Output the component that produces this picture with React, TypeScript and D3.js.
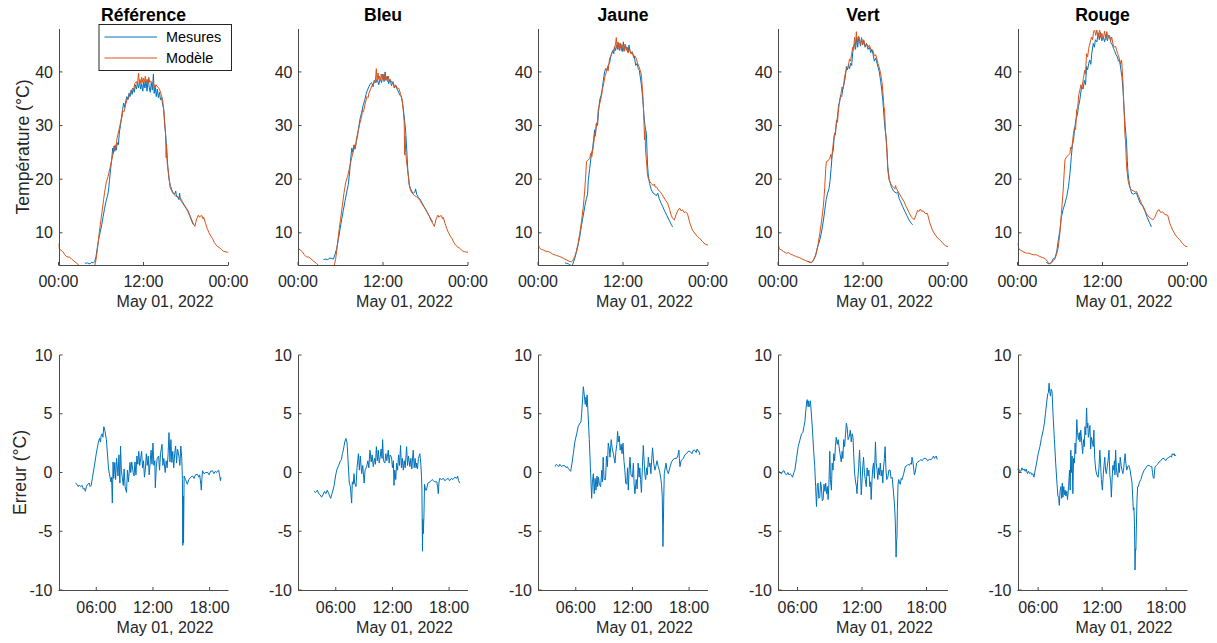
import React from 'react';
import * as d3 from 'd3';

type P = [number, number];

const panelTitles = ['Référence', 'Bleu', 'Jaune', 'Vert', 'Rouge'];
const legendLabels = ['Mesures', 'Modèle'];
const dateLabel = 'May 01, 2022';
const topTicksH = [0, 12, 24];
const botTicksH = [6, 12, 18];
const topYTicks = [10, 20, 30, 40];
const botYTicks = [-10, -5, 0, 5, 10];
const topYDomain: P = [4, 48];
const botYDomain: P = [-10, 10];
const errXDomains: P[] = [[2, 20], [2, 20], [2, 20], [4.18, 20], [4.06, 20]];

// ---- Référence ----
const modelRef: P[] = [[0,8.0],[0.1,7.0],[0.3,6.8],[0.6,6.5],[0.9,5.9],[1.2,5.5],[1.5,5.5],[1.8,5.2],[2.2,4.7],[2.6,4.3],[3.0,3.8],[3.5,3.4],[4.0,3.2],[4.5,3.0],[4.9,3.1],[5.1,3.8],[5.3,5.0],[5.5,7.0],[5.75,10.0],[6.0,12.5],[6.25,15.0],[6.5,17.5],[6.75,19.5],[7.0,20.5],[7.25,22.0],[7.5,23.5],[7.75,25.0],[7.9,25.6],[8.0,26.4],[8.1,25.8],[8.25,27.5],[8.5,29.0],[8.75,30.5],[9.0,31.8],[9.1,32.8],[9.25,32.6],[9.5,34.0],[9.75,35.2],[9.9,35.0],[10.0,35.8],[10.25,36.4],[10.5,37.0],[10.6,36.6],[10.75,37.8],[11.0,38.2],[11.15,37.6],[11.3,39.8],[11.4,38.0],[11.5,38.6],[11.65,37.8],[11.75,39.0],[11.9,38.0],[12.0,38.8],[12.15,38.2],[12.25,39.2],[12.4,38.0],[12.5,38.6],[12.65,37.9],[12.75,39.0],[12.9,38.0],[13.0,38.3],[13.25,38.0],[13.5,37.6],[13.6,37.0],[13.75,37.6],[14.0,37.2],[14.25,36.8],[14.5,35.8],[14.7,34.8],[14.85,33.0],[15.0,30.5],[15.1,28.8],[15.2,24.0],[15.25,26.5],[15.35,23.0],[15.5,21.5],[15.75,18.5],[16.0,17.8],[16.25,17.2],[16.5,16.9],[16.75,16.7],[17.0,16.6],[17.25,16.4],[17.5,15.8],[17.75,15.2],[18.0,14.7],[18.25,14.2],[18.5,13.4],[18.75,12.6],[19.0,11.8],[19.25,11.2],[19.5,12.6],[19.75,13.3],[19.9,12.9],[20.0,13.1],[20.25,13.2],[20.4,12.6],[20.5,12.9],[20.75,11.8],[21.0,10.8],[21.25,10.0],[21.5,9.4],[21.75,8.9],[22.0,8.2],[22.25,7.7],[22.5,7.4],[22.75,7.2],[23.0,6.9],[23.25,6.6],[23.5,6.5],[23.75,6.4],[24.0,6.4]];
const measRef: P[] = [[3.72,4.4],[3.9,4.3],[4.1,4.4],[4.3,4.2],[4.5,4.3],[4.7,4.5],[4.9,4.4],[5.1,4.6],[5.3,5.6],[5.5,7.4],[5.7,9.0],[5.9,10.2],[6.1,11.5],[6.3,13.0],[6.5,14.5],[6.7,15.8],[6.9,16.8],[7.05,17.8],[7.2,19.8],[7.35,21.8],[7.5,23.5],[7.65,25.8],[7.75,24.8],[7.85,26.2],[7.95,25.2],[8.05,26.2],[8.15,25.4],[8.3,26.8],[8.45,26.4],[8.6,28.8],[8.75,30.0],[8.9,31.6],[9.05,33.0],[9.2,34.2],[9.35,33.4],[9.5,34.6],[9.65,35.4],[9.8,34.8],[9.95,36.0],[10.1,35.4],[10.25,36.6],[10.4,35.8],[10.55,37.0],[10.7,36.2],[10.85,37.6],[11.0,36.8],[11.15,38.0],[11.3,37.0],[11.45,38.2],[11.6,36.8],[11.75,37.8],[11.9,36.4],[12.05,38.2],[12.2,37.0],[12.35,38.4],[12.5,36.4],[12.65,38.6],[12.8,37.2],[12.95,36.2],[13.1,38.0],[13.25,36.6],[13.4,39.6],[13.5,36.0],[13.65,37.4],[13.8,35.4],[13.95,36.8],[14.1,35.2],[14.25,36.2],[14.4,34.8],[14.55,35.2],[14.7,34.0],[14.85,33.0],[15.0,30.0],[15.15,28.0],[15.3,25.0],[15.45,22.0],[15.6,20.0],[15.8,18.8],[16.0,18.0],[16.2,17.4],[16.4,17.2],[16.55,17.8],[16.65,16.8],[16.8,16.8],[17.0,16.2],[17.1,17.4],[17.2,16.2],[17.4,15.8],[17.6,15.4],[17.8,15.0],[18.0,14.6],[18.25,14.0],[18.5,13.3],[18.75,12.4],[19.0,11.6],[19.1,11.5]];
const errRef: P[] = [[3.79,-0.9],[3.95,-1.0],[4.1,-1.2],[4.2,-1.07],[4.35,-1.2],[4.5,-1.1],[4.62,-1.4],[4.75,-1.35],[4.85,-1.6],[4.95,-1.2],[5.1,-1.0],[5.25,-0.9],[5.35,-1.2],[5.46,-1.1],[5.6,-0.4],[5.8,0.56],[6.0,1.6],[6.2,2.5],[6.35,2.9],[6.45,2.6],[6.5,3.1],[6.62,3.3],[6.7,3.0],[6.8,3.9],[6.9,3.6],[7.07,2.8],[7.2,1.4],[7.3,0.3],[7.43,-0.3],[7.55,-0.8],[7.62,-0.4],[7.7,-2.6],[7.78,0.9],[7.85,-0.5],[7.96,0.85],[8.05,-0.6],[8.15,1.2],[8.3,-0.3],[8.4,1.5],[8.5,-0.9],[8.57,2.25],[8.65,0.2],[8.75,-0.4],[8.86,-1.1],[8.95,0.3],[9.05,-1.2],[9.2,-1.7],[9.3,0.2],[9.4,-0.8],[9.57,0.85],[9.65,0.0],[9.75,0.9],[9.9,0.0],[10.0,-0.3],[10.1,0.9],[10.2,-0.2],[10.3,1.4],[10.4,0.7],[10.5,1.8],[10.6,0.6],[10.7,1.2],[10.8,1.8],[10.9,0.4],[11.0,1.0],[11.1,-0.4],[11.2,0.3],[11.3,1.6],[11.4,0.6],[11.5,1.4],[11.6,-0.2],[11.7,0.8],[11.8,1.9],[11.9,0.7],[12.0,2.5],[12.1,0.6],[12.2,1.0],[12.25,-1.3],[12.35,0.4],[12.45,1.2],[12.6,1.4],[12.7,0.2],[12.8,1.6],[12.96,2.4],[13.05,0.6],[13.15,1.2],[13.3,0.0],[13.4,1.0],[13.5,0.4],[13.6,1.5],[13.7,3.4],[13.8,0.9],[13.9,2.8],[14.0,0.85],[14.1,1.8],[14.2,0.4],[14.3,1.6],[14.4,2.25],[14.5,0.8],[14.6,2.0],[14.75,1.4],[14.85,0.6],[14.95,2.25],[15.05,1.2],[15.12,-0.6],[15.16,-6.2],[15.2,-2.0],[15.24,-6.0],[15.3,-0.3],[15.45,-0.6],[15.64,-1.0],[15.8,-0.6],[16.0,-0.4],[16.2,-0.3],[16.35,-0.5],[16.5,-0.2],[16.7,-0.15],[16.85,-0.4],[16.95,-0.2],[17.07,-1.0],[17.12,-1.5],[17.18,-0.6],[17.25,0.15],[17.4,-0.1],[17.6,0.0],[17.8,0.0],[17.95,-0.2],[18.1,0.1],[18.3,0.15],[18.45,-0.1],[18.6,0.1],[18.75,0.0],[18.86,0.15],[18.95,0.2],[19.05,-0.2],[19.15,-0.7],[19.2,-0.4]];

// ---- Bleu ----
const modelBleu: P[] = [[0,8.0],[0.1,7.0],[0.3,6.8],[0.6,6.5],[0.9,5.9],[1.2,5.5],[1.5,5.5],[1.8,5.2],[2.2,4.7],[2.6,4.3],[3.0,3.8],[3.5,3.4],[4.0,3.2],[4.5,3.0],[4.9,3.1],[5.1,3.8],[5.3,5.0],[5.5,7.0],[5.75,10.0],[6.0,12.5],[6.25,15.0],[6.5,17.5],[6.75,19.5],[7.0,20.5],[7.25,22.0],[7.5,23.5],[7.75,25.0],[7.9,25.6],[8.0,26.4],[8.1,25.8],[8.25,27.5],[8.5,29.0],[8.75,30.5],[9.0,31.8],[9.1,32.8],[9.25,32.6],[9.5,34.2],[9.75,35.4],[9.9,35.2],[10.0,36.0],[10.25,36.8],[10.5,37.6],[10.6,37.2],[10.75,38.4],[10.9,38.0],[11.06,40.6],[11.15,38.4],[11.3,39.8],[11.4,38.6],[11.5,39.2],[11.65,38.4],[11.75,39.6],[11.9,38.6],[12.0,39.4],[12.15,38.6],[12.25,39.6],[12.4,38.4],[12.5,39.0],[12.65,38.2],[12.75,39.2],[12.9,38.2],[13.0,38.6],[13.25,38.0],[13.5,37.8],[13.6,37.0],[13.75,37.6],[14.0,37.0],[14.25,36.9],[14.5,35.8],[14.7,34.8],[14.85,33.0],[15.0,30.5],[15.05,24.5],[15.1,28.0],[15.2,25.0],[15.35,23.0],[15.5,21.5],[15.75,18.5],[16.0,17.6],[16.25,17.2],[16.5,16.9],[16.75,16.7],[17.0,16.4],[17.25,16.0],[17.5,15.4],[17.75,14.9],[18.0,14.4],[18.25,13.8],[18.5,13.2],[18.75,12.4],[19.0,11.8],[19.25,11.2],[19.5,12.6],[19.75,13.3],[19.9,12.9],[20.0,13.1],[20.25,13.2],[20.4,12.6],[20.5,12.9],[20.75,11.8],[21.0,10.8],[21.25,10.0],[21.5,9.4],[21.75,8.9],[22.0,8.2],[22.25,7.7],[22.5,7.4],[22.75,7.2],[23.0,6.9],[23.25,6.6],[23.5,6.5],[23.75,6.4],[24.0,6.4]];
const measBleu: P[] = [[3.6,5.0],[3.9,5.1],[4.2,5.0],[4.5,5.3],[4.8,5.2],[5.0,5.1],[5.2,5.9],[5.45,7.0],[5.7,8.8],[5.95,10.8],[6.15,12.4],[6.4,14.2],[6.65,16.0],[6.85,17.4],[7.1,19.0],[7.3,21.5],[7.45,24.0],[7.6,25.8],[7.75,25.0],[7.9,26.4],[8.05,25.6],[8.2,26.8],[8.4,28.0],[8.6,30.0],[8.8,31.5],[9.0,32.5],[9.2,33.8],[9.4,34.6],[9.6,35.8],[9.8,36.6],[10.0,37.2],[10.2,37.8],[10.4,38.0],[10.6,37.4],[10.8,38.4],[11.0,38.0],[11.2,38.6],[11.4,37.6],[11.6,38.8],[11.8,38.0],[12.0,39.6],[12.15,38.2],[12.3,40.0],[12.45,38.6],[12.6,39.2],[12.8,37.8],[13.0,38.6],[13.2,37.4],[13.4,38.2],[13.6,37.0],[13.8,37.4],[14.0,36.8],[14.2,36.2],[14.4,35.6],[14.6,35.4],[14.8,33.8],[15.0,31.6],[15.2,29.0],[15.35,25.5],[15.5,21.7],[15.7,19.0],[15.9,18.2],[16.1,17.6],[16.3,17.4],[16.5,17.6],[16.6,18.2],[16.75,17.2],[17.0,16.6],[17.25,16.2],[17.5,15.6],[17.75,15.0],[18.0,14.4],[18.25,13.8],[18.5,13.2],[18.75,12.6],[19.0,12.0]];
const errBleu: P[] = [[3.7,-1.6],[3.85,-1.7],[4.05,-1.5],[4.2,-1.8],[4.35,-1.9],[4.5,-2.1],[4.65,-1.9],[4.8,-1.6],[4.96,-1.8],[5.1,-1.5],[5.25,-1.8],[5.4,-2.1],[5.46,-2.2],[5.6,-1.8],[5.8,-1.2],[6.0,-0.2],[6.1,0.2],[6.3,0.6],[6.44,0.9],[6.6,1.1],[6.7,1.6],[6.8,1.9],[6.95,2.6],[7.08,2.9],[7.2,2.5],[7.3,1.0],[7.43,-0.9],[7.55,-1.2],[7.62,-2.0],[7.68,-2.6],[7.75,-0.8],[7.85,-1.0],[7.93,-0.1],[8.0,-0.9],[8.14,-1.2],[8.25,0.4],[8.4,1.6],[8.5,0.2],[8.6,1.4],[8.74,-0.1],[8.85,0.6],[9.0,-0.9],[9.1,0.2],[9.27,0.5],[9.4,1.0],[9.5,0.4],[9.62,1.9],[9.75,0.9],[9.85,1.5],[9.97,0.5],[10.1,1.2],[10.2,0.7],[10.3,2.2],[10.4,1.0],[10.5,1.9],[10.6,0.8],[10.7,1.3],[10.8,2.0],[10.9,1.2],[10.96,2.8],[11.05,1.0],[11.2,0.8],[11.3,1.6],[11.4,1.0],[11.56,1.9],[11.65,0.8],[11.75,1.5],[11.9,1.3],[12.0,0.4],[12.1,1.0],[12.16,-1.1],[12.25,0.2],[12.35,-0.6],[12.44,0.8],[12.55,0.2],[12.65,1.5],[12.75,0.6],[12.86,2.3],[12.95,0.4],[13.05,1.2],[13.15,0.2],[13.25,1.0],[13.35,0.4],[13.5,2.2],[13.6,0.6],[13.7,1.4],[13.85,0.5],[13.95,1.2],[14.05,0.3],[14.2,1.9],[14.3,0.4],[14.4,1.2],[14.5,0.4],[14.56,0.8],[14.65,0.3],[14.75,1.2],[14.9,1.6],[15.0,0.8],[15.08,-0.4],[15.12,-1.5],[15.18,-6.7],[15.22,-4.0],[15.27,-5.2],[15.33,-3.8],[15.4,-1.0],[15.5,-1.5],[15.6,-1.5],[15.75,-0.9],[15.97,-0.8],[16.2,-0.6],[16.35,-0.7],[16.5,-0.8],[16.7,-0.8],[16.8,-1.3],[16.85,-1.8],[16.92,-0.9],[17.0,-0.5],[17.2,-0.6],[17.4,-0.5],[17.55,-0.7],[17.7,-0.6],[17.9,-0.5],[18.05,-0.7],[18.25,-0.5],[18.4,-0.6],[18.6,-0.4],[18.8,-0.5],[18.9,-0.3],[19.0,-0.7],[19.14,-0.9]];

// ---- Jaune ----
const modelJaune: P[] = [[0,8.0],[0.2,7.2],[0.5,6.9],[0.75,6.8],[1.0,6.6],[1.45,6.5],[1.8,6.3],[2.1,6.0],[2.6,5.8],[3.0,5.6],[3.4,5.4],[3.8,5.1],[4.1,4.9],[4.4,4.7],[4.7,4.6],[4.9,4.8],[5.2,5.6],[5.4,6.5],[5.65,8.0],[5.9,9.9],[6.15,12.2],[6.4,14.9],[6.6,18.0],[6.75,21.0],[6.85,23.3],[7.05,23.5],[7.3,23.9],[7.45,24.8],[7.6,24.2],[7.8,26.0],[7.95,27.6],[8.0,28.5],[8.1,28.0],[8.25,30.5],[8.35,30.0],[8.5,32.9],[8.7,34.0],[8.95,35.4],[9.1,36.8],[9.3,38.0],[9.45,39.2],[9.65,40.0],[9.8,40.8],[9.9,40.2],[10.1,42.5],[10.3,43.0],[10.45,43.6],[10.6,43.8],[10.8,44.4],[10.95,45.2],[11.05,46.4],[11.15,44.6],[11.3,45.6],[11.45,44.2],[11.6,45.4],[11.75,44.0],[11.9,45.0],[12.0,44.7],[12.15,43.8],[12.3,45.2],[12.45,44.0],[12.6,44.6],[12.75,43.6],[12.9,44.4],[13.1,43.4],[13.3,43.8],[13.5,42.6],[13.7,43.0],[13.9,42.4],[14.05,41.6],[14.25,41.0],[14.45,40.2],[14.6,39.4],[14.75,36.5],[14.85,34.7],[14.95,31.0],[15.05,27.3],[15.1,29.0],[15.2,25.0],[15.3,23.6],[15.45,21.0],[15.55,20.2],[15.75,19.6],[16.0,19.2],[16.25,18.8],[16.45,19.1],[16.55,18.5],[16.7,18.6],[17.0,18.0],[17.4,17.4],[17.8,16.5],[18.3,15.5],[18.6,14.3],[18.8,13.3],[19.0,12.7],[19.25,12.4],[19.5,13.4],[19.75,14.2],[20.0,14.6],[20.2,14.1],[20.4,14.3],[20.6,13.8],[20.8,13.9],[21.1,13.6],[21.4,12.0],[21.8,10.5],[22.2,9.8],[22.5,9.3],[22.8,9.0],[23.2,8.4],[23.6,7.9],[24.0,7.7]];
const measJaune: P[] = [[3.8,4.4],[4.05,4.3],[4.3,4.2],[4.5,4.0],[4.7,3.9],[4.9,4.1],[5.2,5.3],[5.45,6.5],[5.7,8.0],[5.9,9.3],[6.15,11.5],[6.4,13.3],[6.6,14.9],[6.8,16.2],[7.0,17.2],[7.1,19.8],[7.3,22.0],[7.55,24.8],[7.7,25.6],[7.85,27.4],[8.0,29.2],[8.1,28.4],[8.25,30.4],[8.4,30.0],[8.55,32.6],[8.7,34.7],[8.9,35.6],[9.05,36.6],[9.2,38.2],[9.4,40.0],[9.55,40.6],[9.75,40.4],[9.9,41.2],[10.1,41.6],[10.25,42.8],[10.4,43.4],[10.55,44.0],[10.7,43.4],[10.8,44.7],[10.95,44.0],[11.1,45.0],[11.25,44.2],[11.4,45.4],[11.5,44.0],[11.7,45.2],[11.9,43.8],[12.05,45.6],[12.2,44.0],[12.35,45.0],[12.5,44.4],[12.7,43.6],[12.85,45.0],[13.0,43.8],[13.2,43.4],[13.4,43.4],[13.6,42.8],[13.8,41.2],[14.0,41.6],[14.15,40.6],[14.3,40.3],[14.5,38.5],[14.65,37.0],[14.8,34.7],[14.95,32.0],[15.1,30.0],[15.3,28.5],[15.45,23.0],[15.55,21.0],[15.75,19.2],[16.0,18.0],[16.25,17.4],[16.5,17.2],[16.7,16.9],[16.9,17.4],[17.1,16.4],[17.35,15.6],[17.6,14.9],[17.9,14.0],[18.2,13.2],[18.5,12.4],[18.8,11.6],[19.0,11.1]];
const errJaune: P[] = [[3.8,0.5],[3.95,0.7],[4.05,0.6],[4.2,0.5],[4.3,0.7],[4.5,0.5],[4.65,0.6],[4.86,0.55],[5.0,0.4],[5.1,0.5],[5.2,0.35],[5.35,0.2],[5.46,0.1],[5.6,0.8],[5.74,1.6],[5.9,2.6],[6.1,3.3],[6.25,3.9],[6.44,4.2],[6.55,4.3],[6.62,5.0],[6.72,6.2],[6.8,7.3],[6.9,6.6],[7.0,5.8],[7.08,6.4],[7.14,5.6],[7.2,6.6],[7.3,5.0],[7.43,2.8],[7.55,0.4],[7.68,-2.2],[7.76,-0.8],[7.86,-0.1],[7.95,-1.8],[8.05,-0.5],[8.14,-1.5],[8.25,-0.3],[8.32,-1.2],[8.4,-0.4],[8.5,-1.0],[8.63,-1.2],[8.75,0.2],[8.82,-0.8],[8.9,1.3],[9.0,-0.6],[9.15,-0.6],[9.25,1.4],[9.35,0.5],[9.44,2.5],[9.55,2.0],[9.62,1.3],[9.75,2.8],[9.87,2.0],[10.0,1.5],[10.15,0.8],[10.25,1.8],[10.35,2.4],[10.43,3.5],[10.5,2.6],[10.6,3.1],[10.7,1.9],[10.8,2.4],[10.9,1.6],[11.0,2.5],[11.1,1.0],[11.2,0.2],[11.28,-0.9],[11.4,-1.0],[11.48,0.4],[11.56,-1.5],[11.65,0.2],[11.74,1.3],[11.85,-0.2],[12.0,-0.4],[12.1,0.8],[12.18,-1.0],[12.26,-1.8],[12.4,-0.6],[12.5,-1.4],[12.6,0.8],[12.7,-0.4],[12.78,0.4],[12.86,-0.6],[12.95,-1.7],[13.05,0.4],[13.15,2.3],[13.25,0.8],[13.32,-0.2],[13.4,-0.6],[13.5,0.4],[13.58,-0.2],[13.68,1.3],[13.78,0.5],[13.86,0.8],[13.95,-0.1],[14.05,1.2],[14.13,2.1],[14.25,0.8],[14.38,0.2],[14.5,0.6],[14.6,1.0],[14.73,0.5],[14.85,0.2],[14.98,-0.4],[15.08,-1.0],[15.16,-2.1],[15.2,-4.5],[15.23,-6.3],[15.27,-4.7],[15.32,-2.0],[15.37,-0.1],[15.45,0.3],[15.55,0.8],[15.65,0.2],[15.8,-0.1],[15.95,0.4],[16.14,0.9],[16.3,1.1],[16.5,1.2],[16.67,1.2],[16.8,1.4],[16.92,1.9],[16.97,1.2],[17.03,0.5],[17.15,1.0],[17.38,1.2],[17.55,1.5],[17.73,1.6],[17.9,1.8],[18.1,1.8],[18.3,1.6],[18.45,1.9],[18.6,1.9],[18.75,1.7],[18.85,2.0],[18.97,1.8],[19.05,1.8],[19.14,1.5]];

// ---- Vert ----
const modelVert: P[] = [[0,8.0],[0.2,7.0],[0.5,6.8],[0.8,6.5],[1.2,6.2],[1.5,6.3],[1.8,6.0],[2.2,5.8],[2.6,5.55],[3.0,5.4],[3.4,5.1],[3.8,4.9],[4.1,4.7],[4.5,4.5],[4.8,4.5],[5.0,4.9],[5.2,5.5],[5.4,6.2],[5.65,7.8],[5.9,9.9],[6.15,12.2],[6.4,14.9],[6.6,18.5],[6.75,22.3],[6.85,23.3],[7.05,23.4],[7.3,23.9],[7.45,24.6],[7.55,23.6],[7.8,26.7],[8.0,28.6],[8.1,28.2],[8.25,31.0],[8.4,30.6],[8.5,32.4],[8.7,34.7],[8.9,36.0],[9.05,37.2],[9.2,36.8],[9.4,39.1],[9.6,40.2],[9.75,40.8],[9.9,41.0],[10.1,42.4],[10.25,42.0],[10.4,43.4],[10.55,44.6],[10.7,44.2],[10.8,46.5],[10.95,45.0],[11.06,47.5],[11.2,45.4],[11.35,46.6],[11.5,45.9],[11.65,45.0],[11.8,46.2],[11.95,45.2],[12.1,46.0],[12.3,44.8],[12.5,45.3],[12.7,44.6],[12.9,45.0],[13.1,44.2],[13.4,44.0],[13.6,43.0],[13.8,43.2],[14.1,41.6],[14.3,40.8],[14.5,39.6],[14.7,37.9],[14.85,35.5],[14.95,33.5],[15.05,32.9],[15.15,29.5],[15.3,26.7],[15.4,24.5],[15.5,21.7],[15.7,19.8],[16.0,18.9],[16.3,18.5],[16.5,18.2],[16.6,18.8],[16.7,18.3],[17.0,17.6],[17.4,16.7],[17.8,15.8],[18.1,14.9],[18.5,13.8],[18.8,13.0],[19.0,12.7],[19.25,12.5],[19.5,13.4],[19.7,14.2],[19.9,14.0],[20.1,14.4],[20.3,14.0],[20.5,14.1],[20.8,13.6],[21.1,13.6],[21.4,12.0],[21.8,10.5],[22.2,9.6],[22.5,9.1],[22.8,8.7],[23.2,8.2],[23.6,7.6],[24.0,7.4]];
const measVert: P[] = [[4.18,4.7],[4.4,4.6],[4.7,4.4],[5.0,4.9],[5.3,5.7],[5.5,6.9],[5.7,7.8],[5.9,8.7],[6.1,9.8],[6.4,12.2],[6.6,14.2],[6.8,16.2],[7.0,17.4],[7.2,18.2],[7.35,19.8],[7.5,22.0],[7.65,24.6],[7.8,25.4],[7.95,28.2],[8.1,28.8],[8.25,30.4],[8.4,31.6],[8.55,33.8],[8.7,34.4],[8.85,35.6],[9.0,35.4],[9.15,37.0],[9.3,37.6],[9.5,39.0],[9.66,41.0],[9.8,40.4],[9.95,41.2],[10.1,40.6],[10.25,41.6],[10.4,41.2],[10.55,43.6],[10.7,44.8],[10.8,45.3],[10.95,44.2],[11.1,46.4],[11.25,44.6],[11.4,46.6],[11.5,46.2],[11.65,44.8],[11.8,46.4],[11.95,45.0],[12.1,45.8],[12.3,44.6],[12.5,45.3],[12.7,44.2],[12.9,44.6],[13.1,43.6],[13.25,44.2],[13.4,43.4],[13.6,42.0],[13.8,42.6],[14.1,41.0],[14.3,40.0],[14.5,38.2],[14.65,36.6],[14.8,34.7],[15.0,31.0],[15.15,29.0],[15.3,27.3],[15.4,25.0],[15.5,22.3],[15.7,20.0],[16.0,18.6],[16.3,17.8],[16.5,17.6],[16.7,17.4],[16.9,17.6],[17.1,16.4],[17.3,15.8],[17.6,14.9],[17.9,14.0],[18.2,13.2],[18.5,12.4],[18.8,11.8],[19.0,11.5]];
const errVert: P[] = [[4.18,0.0],[4.3,0.1],[4.4,-0.05],[4.52,-0.1],[4.6,0.1],[4.74,0.15],[4.85,-0.1],[4.98,-0.2],[5.1,0.0],[5.2,-0.2],[5.3,-0.1],[5.42,-0.2],[5.54,-0.4],[5.65,0.0],[5.75,0.2],[5.9,1.2],[6.06,2.2],[6.2,2.7],[6.37,3.3],[6.5,3.4],[6.59,3.9],[6.68,4.3],[6.77,5.3],[6.85,6.0],[6.9,6.2],[6.98,5.6],[7.04,6.1],[7.08,5.6],[7.15,5.8],[7.2,6.1],[7.3,4.8],[7.39,3.6],[7.5,1.8],[7.6,0.5],[7.68,-1.2],[7.76,-2.9],[7.84,-1.0],[7.91,-0.9],[7.98,-2.2],[8.07,-2.1],[8.14,-0.8],[8.22,-1.2],[8.3,-2.4],[8.38,-2.3],[8.46,-1.0],[8.55,-1.6],[8.62,-0.9],[8.7,-1.8],[8.78,-1.2],[8.84,-2.3],[8.92,-1.0],[9.0,1.8],[9.06,-0.6],[9.15,-1.5],[9.22,0.8],[9.3,0.2],[9.37,1.6],[9.45,1.0],[9.52,2.2],[9.6,3.0],[9.7,2.4],[9.78,2.8],[9.86,2.2],[9.95,1.6],[10.07,0.9],[10.15,1.8],[10.22,1.2],[10.29,2.8],[10.38,2.2],[10.46,3.2],[10.54,4.2],[10.62,3.8],[10.7,2.8],[10.8,3.0],[10.91,3.6],[11.0,2.6],[11.08,3.3],[11.16,3.0],[11.22,1.6],[11.31,-0.1],[11.4,-0.8],[11.48,-1.2],[11.53,-1.8],[11.6,-0.6],[11.68,0.4],[11.77,1.9],[11.85,0.2],[11.93,-1.9],[12.02,-0.4],[12.08,0.6],[12.14,1.3],[12.22,0.0],[12.3,-0.6],[12.39,-1.2],[12.47,0.4],[12.56,-0.3],[12.64,0.2],[12.72,-1.2],[12.8,-0.8],[12.85,-2.3],[12.93,-0.6],[13.0,0.4],[13.07,0.8],[13.15,-0.5],[13.25,2.6],[13.32,0.8],[13.4,0.2],[13.47,-0.6],[13.55,0.4],[13.62,-0.2],[13.7,0.8],[13.78,-0.3],[13.86,0.2],[13.93,-0.9],[14.0,0.4],[14.08,1.2],[14.15,2.2],[14.22,0.4],[14.3,-0.6],[14.4,-0.4],[14.5,0.2],[14.61,0.2],[14.7,-0.5],[14.8,-0.4],[14.9,-1.4],[15.01,-2.6],[15.08,-3.8],[15.13,-5.4],[15.17,-7.2],[15.21,-5.8],[15.25,-5.6],[15.29,-3.2],[15.35,-1.0],[15.42,-0.6],[15.48,-0.9],[15.56,-1.0],[15.65,-0.5],[15.72,-0.6],[15.85,-0.2],[16.03,0.5],[16.2,0.6],[16.3,0.7],[16.4,0.6],[16.52,0.8],[16.6,0.7],[16.65,1.3],[16.72,1.0],[16.8,0.4],[16.87,-0.2],[16.95,0.0],[17.08,0.8],[17.2,0.9],[17.35,1.0],[17.48,1.1],[17.6,1.0],[17.75,1.2],[17.95,1.2],[18.1,1.0],[18.25,1.1],[18.41,1.1],[18.55,1.2],[18.65,1.4],[18.75,1.2],[18.81,1.3],[18.9,1.4],[19.0,1.1]];

// ---- Rouge ----
const modelRouge: P[] = [[0,8.0],[0.2,7.0],[0.5,6.7],[0.9,6.4],[1.3,6.2],[1.6,6.2],[2.0,6.0],[2.3,5.9],[2.7,5.9],[3.1,5.6],[3.5,5.4],[3.9,5.2],[4.2,4.7],[4.4,4.3],[4.6,4.3],[4.8,4.4],[5.05,4.8],[5.3,5.2],[5.55,6.2],[5.77,7.4],[6.0,10.2],[6.2,13.6],[6.45,18.0],[6.6,21.5],[6.7,23.6],[6.94,24.2],[7.15,24.4],[7.4,24.8],[7.5,26.0],[7.65,25.6],[7.9,28.5],[8.05,29.6],[8.2,29.2],[8.35,32.9],[8.5,33.4],[8.65,35.8],[8.8,36.6],[8.95,37.6],[9.1,37.0],[9.3,38.8],[9.5,40.3],[9.6,39.6],[9.75,43.4],[9.9,42.8],[10.05,44.4],[10.25,45.4],[10.45,46.5],[10.6,46.0],[10.75,47.6],[10.9,47.8],[11.05,46.8],[11.2,47.8],[11.4,46.6],[11.6,47.8],[11.75,46.4],[11.9,47.2],[12.1,46.2],[12.3,47.6],[12.45,46.0],[12.6,47.5],[12.8,46.4],[13.0,46.8],[13.15,45.8],[13.3,46.5],[13.5,45.0],[13.7,44.6],[13.85,44.8],[14.0,44.0],[14.2,43.2],[14.4,42.4],[14.55,41.4],[14.7,42.2],[14.8,40.0],[14.9,37.9],[15.0,34.0],[15.1,31.0],[15.15,28.5],[15.25,27.0],[15.4,22.3],[15.6,19.8],[15.85,18.4],[16.1,18.0],[16.4,17.8],[16.6,17.6],[16.8,17.7],[17.1,16.8],[17.5,15.5],[17.8,14.8],[18.2,13.6],[18.6,12.9],[19.1,12.4],[19.4,12.9],[19.6,13.6],[19.8,14.2],[20.0,14.3],[20.2,13.8],[20.5,13.9],[20.8,13.4],[21.2,13.3],[21.5,11.8],[21.9,10.5],[22.3,9.6],[22.6,9.1],[22.9,8.7],[23.3,8.0],[23.7,7.5],[24.0,7.4]];
const measRouge: P[] = [[4.06,4.5],[4.3,4.3],[4.5,4.2],[4.8,4.5],[5.06,5.2],[5.3,5.3],[5.55,6.6],[5.77,8.7],[6.0,10.6],[6.2,13.0],[6.45,14.4],[6.7,15.5],[6.95,16.8],[7.2,18.6],[7.4,21.0],[7.6,24.2],[7.75,26.4],[7.9,27.2],[8.1,29.8],[8.3,31.4],[8.45,32.0],[8.6,33.5],[8.8,34.8],[9.05,37.2],[9.25,36.8],[9.45,38.4],[9.6,37.6],[9.75,41.0],[9.9,40.4],[10.05,41.6],[10.2,42.2],[10.35,41.4],[10.5,43.6],[10.7,45.3],[10.85,44.6],[11.0,46.0],[11.2,45.6],[11.4,47.2],[11.55,46.0],[11.7,47.4],[11.9,45.8],[12.1,46.5],[12.3,45.6],[12.5,47.0],[12.7,45.8],[12.85,46.8],[13.0,46.5],[13.2,45.4],[13.4,45.0],[13.55,44.4],[13.7,44.0],[13.9,43.2],[14.1,42.8],[14.25,42.0],[14.4,42.2],[14.6,40.4],[14.75,39.0],[14.9,36.6],[15.05,33.0],[15.2,30.0],[15.3,28.4],[15.4,26.7],[15.5,23.5],[15.6,21.1],[15.8,19.0],[16.1,17.4],[16.4,17.2],[16.6,17.4],[16.8,17.4],[17.0,16.6],[17.3,15.6],[17.7,14.9],[18.0,14.0],[18.3,12.9],[18.6,12.0],[18.9,11.1]];
const errRouge: P[] = [[4.06,0.2],[4.15,0.4],[4.25,0.1],[4.37,0.1],[4.48,0.4],[4.58,0.2],[4.68,0.3],[4.78,0.1],[4.88,0.3],[4.99,-0.1],[5.1,0.1],[5.2,-0.1],[5.3,0.0],[5.42,-0.2],[5.5,-0.1],[5.6,-0.4],[5.72,0.2],[5.85,0.8],[6.0,1.6],[6.16,2.2],[6.3,2.9],[6.47,3.6],[6.58,4.2],[6.68,5.0],[6.8,6.0],[6.9,6.7],[6.96,6.8],[7.02,7.6],[7.08,6.9],[7.15,6.5],[7.22,7.1],[7.3,6.9],[7.4,4.8],[7.52,2.8],[7.64,0.8],[7.76,-0.9],[7.85,-2.0],[7.92,-2.1],[7.98,-2.8],[8.05,-1.6],[8.13,-1.2],[8.2,-2.2],[8.26,-0.9],[8.32,-2.1],[8.4,-1.2],[8.46,-1.9],[8.53,-1.5],[8.6,-2.0],[8.68,-1.6],[8.75,-2.3],[8.85,-1.2],[8.94,0.2],[9.0,-1.5],[9.06,1.9],[9.12,0.0],[9.18,1.4],[9.25,-1.8],[9.32,1.2],[9.4,0.8],[9.46,2.5],[9.52,1.6],[9.58,3.2],[9.62,4.5],[9.68,3.4],[9.77,2.8],[9.85,3.4],[9.92,2.6],[9.99,3.6],[10.08,2.6],[10.17,1.6],[10.25,2.8],[10.32,2.2],[10.39,3.9],[10.46,3.2],[10.54,5.5],[10.6,3.8],[10.66,4.2],[10.7,3.0],[10.78,3.4],[10.85,4.0],[10.92,2.0],[11.0,3.0],[11.1,2.5],[11.16,2.2],[11.22,3.6],[11.3,1.2],[11.4,0.2],[11.5,-0.2],[11.62,-0.4],[11.7,0.4],[11.78,1.9],[11.85,0.8],[11.92,-0.6],[12.02,-1.5],[12.1,-0.2],[12.17,0.6],[12.24,1.3],[12.32,0.2],[12.39,-0.1],[12.46,0.4],[12.55,1.0],[12.64,1.9],[12.72,-0.2],[12.8,-0.8],[12.86,-2.1],[12.94,-0.4],[13.0,0.6],[13.07,0.2],[13.15,1.0],[13.2,-0.2],[13.26,1.9],[13.33,0.4],[13.4,-0.2],[13.47,-0.4],[13.55,0.8],[13.62,0.0],[13.69,1.3],[13.78,0.6],[13.86,0.2],[13.94,-0.1],[14.02,0.4],[14.1,1.2],[14.15,1.6],[14.22,0.8],[14.3,0.2],[14.4,0.5],[14.5,0.6],[14.62,0.2],[14.7,-0.3],[14.8,-0.9],[14.86,-2.0],[14.92,-3.2],[14.98,-3.0],[15.03,-4.5],[15.08,-8.3],[15.12,-6.5],[15.16,-6.6],[15.2,-4.9],[15.26,-2.5],[15.32,-1.2],[15.39,-1.2],[15.5,-0.8],[15.63,-0.6],[15.75,-0.2],[15.94,0.2],[16.1,0.4],[16.25,0.6],[16.4,0.6],[16.56,0.5],[16.65,0.5],[16.72,0.0],[16.78,-0.4],[16.85,-0.5],[16.96,0.5],[17.1,0.6],[17.2,0.7],[17.33,0.9],[17.5,1.0],[17.65,1.2],[17.8,1.2],[17.95,1.0],[18.1,1.2],[18.26,1.3],[18.4,1.4],[18.5,1.3],[18.57,1.6],[18.65,1.5],[18.75,1.6],[18.82,1.4],[18.88,1.5]];

const models = [modelRef, modelBleu, modelJaune, modelVert, modelRouge];
const measures = [measRef, measBleu, measJaune, measVert, measRouge];
const errors = [errRef, errBleu, errJaune, errVert, errRouge];

const BLUE = '#0072BD';
const ORANGE = '#D95319';
const AXIS = '#4a4a4a';
const TEXT = '#262626';
const FONT = "'Liberation Sans', Arial, Helvetica, sans-serif";

const base = new Date(2022, 4, 1, 0, 0, 0).getTime();
const toDate = (h: number) => new Date(base + h * 3600000);
const fmt = d3.timeFormat('%H:%M');

const W = 1217, H = 643;
const lefts = [58.5, 298, 538, 778, 1017.5];
const PW = 170;
const TOP = { y0: 29, y1: 265 };
const BOT = { y0: 355, y1: 590 };
const TL = 3;

function Panel({ i }: { i: number }) {
  const left = lefts[i];
  const right = left + PW;
  const xT = d3.scaleTime().domain([toDate(0), toDate(24)]).range([left, right]);
  const yT = d3.scaleLinear().domain(topYDomain).range([TOP.y1, TOP.y0]);
  const xB = d3.scaleTime().domain([toDate(errXDomains[i][0]), toDate(errXDomains[i][1])]).range([left, right]);
  const yB = d3.scaleLinear().domain(botYDomain).range([BOT.y1, BOT.y0]);
  const lineT = d3.line<P>().x(d => xT(toDate(d[0]))).y(d => yT(d[1]));
  const lineB = d3.line<P>().x(d => xB(toDate(d[0]))).y(d => yB(d[1]));
  const ax = Math.round(left) + 0.5;
  const cx = (left + right) / 2;

  const axes = (y0: number, y1: number) => (
    <g>
      <line x1={ax} x2={ax} y1={y0} y2={y1} stroke={AXIS} strokeWidth={1} />
      <line x1={left} x2={right} y1={y1 + 0.5} y2={y1 + 0.5} stroke={AXIS} strokeWidth={1} />
    </g>
  );

  return (
    <g>
      <defs>
        <clipPath id={`ct${i}`}><rect x={left} y={TOP.y0} width={PW} height={TOP.y1 - TOP.y0} /></clipPath>
        <clipPath id={`cb${i}`}><rect x={left} y={BOT.y0} width={PW} height={BOT.y1 - BOT.y0} /></clipPath>
      </defs>
      {/* Top panel */}
      <text x={cx} y={21} textAnchor="middle" fontFamily={FONT} fontSize={17.6} fontWeight="bold" fill="#000">{panelTitles[i]}</text>
      <g clipPath={`url(#ct${i})`}>
        <path d={lineT(measures[i]) || ''} fill="none" stroke={BLUE} strokeWidth={1} strokeLinejoin="round" />
        <path d={lineT(models[i]) || ''} fill="none" stroke={ORANGE} strokeWidth={1} strokeLinejoin="round" />
      </g>
      {axes(TOP.y0, TOP.y1)}
      {topYTicks.map(t => (
        <g key={`ty${t}`}>
          <line x1={ax} x2={ax + TL} y1={yT(t)} y2={yT(t)} stroke={AXIS} />
          <text x={left - 5.5} y={yT(t)} dy="0.35em" textAnchor="end" fontFamily={FONT} fontSize={16} fill={TEXT}>{t}</text>
        </g>
      ))}
      {topTicksH.map((h, k) => (
        <g key={`tx${k}`}>
          <line x1={xT(toDate(h))} x2={xT(toDate(h))} y1={TOP.y1} y2={TOP.y1 - TL} stroke={AXIS} />
          <text x={xT(toDate(h))} y={TOP.y1 + 22} textAnchor="middle" fontFamily={FONT} fontSize={16} fill={TEXT}>{fmt(toDate(h))}</text>
        </g>
      ))}
      <text x={right - 15} y={TOP.y1 + 42} textAnchor="end" fontFamily={FONT} fontSize={16} fill={TEXT}>{dateLabel}</text>

      {/* Bottom panel */}
      <g clipPath={`url(#cb${i})`}>
        <path d={lineB(errors[i]) || ''} fill="none" stroke={BLUE} strokeWidth={1} strokeLinejoin="round" />
      </g>
      {axes(BOT.y0, BOT.y1)}
      {botYTicks.map(t => (
        <g key={`by${t}`}>
          <line x1={ax} x2={ax + TL} y1={yB(t)} y2={yB(t)} stroke={AXIS} />
          <text x={left - 6} y={yB(t)} dy="0.35em" textAnchor="end" fontFamily={FONT} fontSize={16} fill={TEXT}>{t}</text>
        </g>
      ))}
      {botTicksH.map((h, k) => (
        <g key={`bx${k}`}>
          <line x1={xB(toDate(h))} x2={xB(toDate(h))} y1={BOT.y1} y2={BOT.y1 - TL} stroke={AXIS} />
          <text x={xB(toDate(h))} y={BOT.y1 + 23} textAnchor="middle" fontFamily={FONT} fontSize={16} fill={TEXT}>{fmt(toDate(h))}</text>
        </g>
      ))}
      <text x={right - 15} y={BOT.y1 + 43} textAnchor="end" fontFamily={FONT} fontSize={16} fill={TEXT}>{dateLabel}</text>
    </g>
  );
}

export default function App() {
  React.useEffect(() => {
    document.body.style.margin = '0';
    document.body.style.overflow = 'hidden';
  }, []);
  const lx = lefts[0] + 40.5;
  const ly = 24.5;
  const lw = 132.5;
  const lh = 46;
  return (
    <svg width={W} height={H} style={{ position: 'absolute', left: 0, top: 0, background: '#fff' }}>
      <rect x={0} y={0} width={W} height={H} fill="#fff" />
      {panelTitles.map((_, i) => <Panel key={i} i={i} />)}
      <text transform={`translate(28.5,${(TOP.y0 + TOP.y1) / 2}) rotate(-90)`} textAnchor="middle" fontFamily={FONT} fontSize={17.6} fill={TEXT}>Température (°C)</text>
      <text transform={`translate(26,${(BOT.y0 + BOT.y1) / 2}) rotate(-90)`} textAnchor="middle" fontFamily={FONT} fontSize={17.6} fill={TEXT}>Erreur (°C)</text>
      {/* Legend */}
      <g>
        <rect x={lx} y={ly} width={lw} height={lh} fill="#fff" stroke={TEXT} strokeWidth={1} />
        {legendLabels.map((lab, k) => {
          const cy = ly + 12.5 + k * 21;
          return (
            <g key={lab}>
              <line x1={lx + 5.5} x2={lx + 58} y1={cy} y2={cy} stroke={k === 0 ? BLUE : ORANGE} strokeWidth={1} />
              <text x={lx + 67} y={cy} dy="0.36em" fontFamily={FONT} fontSize={14.4} fill="#000">{lab}</text>
            </g>
          );
        })}
      </g>
    </svg>
  );
}
